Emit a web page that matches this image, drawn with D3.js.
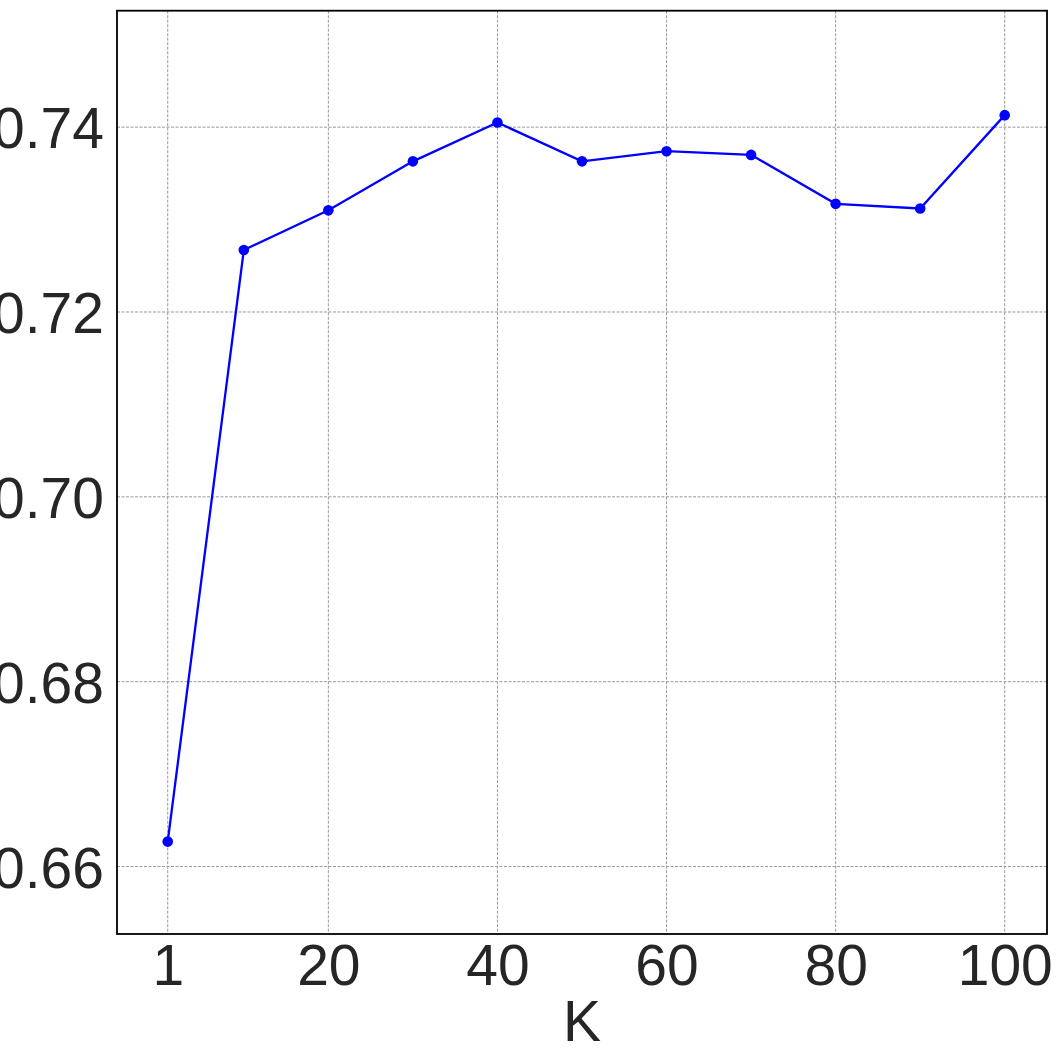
<!DOCTYPE html>
<html>
<head>
<meta charset="utf-8">
<script src="https://cdn.jsdelivr.net/npm/d3@7"></script>
<style>
	body { margin: 0; background: #fff; }
	svg { display: block; }
	.grid line { stroke: #999; stroke-width: 1; stroke-dasharray: 3,1.5; }
	.tick text { font-family: "Liberation Sans", Arial, sans-serif; fill: #262626; }
</style>
</head>
<body>
<div id="chart"></div>
<script>
var kValues = [1, 10, 20, 30, 40, 50, 60, 70, 80, 90, 100];
var scores = [0.6627, 0.7267, 0.7310, 0.7363, 0.7405, 0.7363, 0.7374, 0.7370, 0.7317, 0.7312, 0.7413];
var xTicks = [1, 20, 40, 60, 80, 100];
var yTicks = [0.66, 0.68, 0.70, 0.72, 0.74];

var W = 1061, H = 1061;
var plotL = 117, plotR = 1047, plotT = 10.7, plotB = 934;

var svg = d3.select("#chart").append("svg")
	.attr("width", W).attr("height", H);

var x = d3.scaleLinear().domain([-5, 105]).range([plotL, plotR]);
var y = d3.scaleLinear().domain([0.6527, 0.7526]).range([plotB, plotT]);

// grid
var grid = svg.append("g").attr("class", "grid");
grid.selectAll(".gx").data(xTicks).enter().append("line")
	.attr("x1", function(d){ return x(d); }).attr("x2", function(d){ return x(d); })
	.attr("y1", plotT).attr("y2", plotB);
grid.selectAll(".gy").data(yTicks).enter().append("line")
	.attr("x1", plotL).attr("x2", plotR)
	.attr("y1", function(d){ return y(d); }).attr("y2", function(d){ return y(d); });

// axes
var xAxis = d3.axisBottom(x).tickValues(xTicks).tickSize(0).tickPadding(10)
	.tickFormat(d3.format("d"));
var yAxis = d3.axisLeft(y).tickValues(yTicks).tickSize(0).tickPadding(13)
	.tickFormat(d3.format(".2f"));

var gx = svg.append("g")
	.attr("transform", "translate(0," + plotB + ")")
	.call(xAxis);
gx.select(".domain").remove();
gx.selectAll("text").style("font-size", "57px").attr("dy", "0.72em");

var gy = svg.append("g")
	.attr("transform", "translate(" + plotL + ",0)")
	.call(yAxis);
gy.select(".domain").remove();
gy.selectAll("text").style("font-size", "57px").attr("dy", "0.36em");

// frame
svg.append("rect")
	.attr("x", plotL).attr("y", plotT)
	.attr("width", plotR - plotL).attr("height", plotB - plotT)
	.attr("fill", "none").attr("stroke", "#000").attr("stroke-width", 1.8);

// x label
svg.append("text")
	.attr("x", (plotL + plotR) / 2).attr("y", 1040.5)
	.attr("text-anchor", "middle")
	.style("font-family", "Liberation Sans, Arial, sans-serif")
	.style("font-size", "57px").style("fill", "#262626")
	.text("K");

// line + markers
var line = d3.line()
	.x(function(d, i){ return x(kValues[i]); })
	.y(function(d){ return y(d); });

svg.append("path")
	.datum(scores)
	.attr("fill", "none").attr("stroke", "#0000ff").attr("stroke-width", 2.3)
	.attr("d", line);

svg.selectAll(".pt").data(scores).enter().append("circle")
	.attr("class", "pt")
	.attr("cx", function(d, i){ return x(kValues[i]); })
	.attr("cy", function(d){ return y(d); })
	.attr("r", 5.3)
	.attr("fill", "#0000ff");
</script>
</body>
</html>
